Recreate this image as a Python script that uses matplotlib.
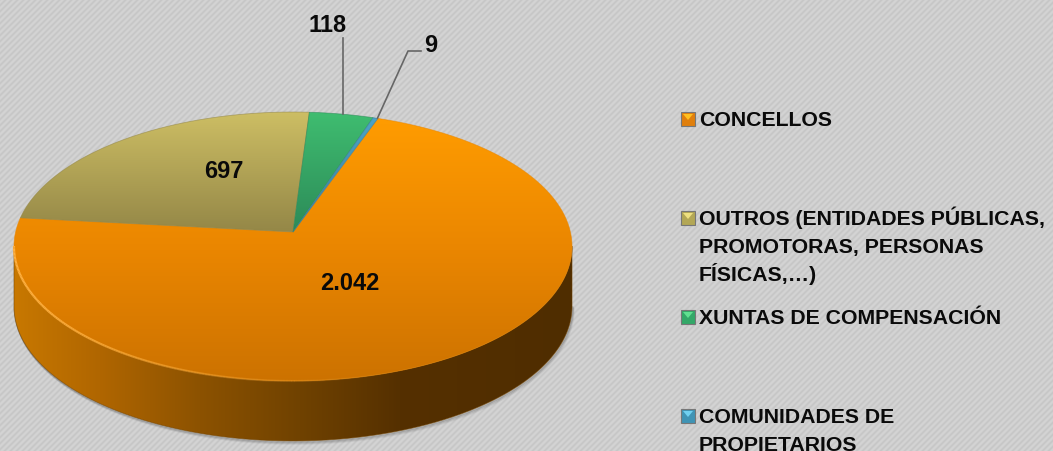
import numpy as np
import matplotlib
matplotlib.use("Agg")
import matplotlib.pyplot as plt
from matplotlib.collections import LineCollection
from matplotlib.colors import to_rgb
from matplotlib.patches import Polygon

W, H = 1053, 451

# Chart data
categories = ["CONCELLOS", "OUTROS (ENTIDADES PÚBLICAS,\nPROMOTORAS, PERSONAS\nFÍSICAS,…)",
              "XUNTAS DE COMPENSACIÓN", "COMUNIDADES DE\nPROPIETARIOS"]
values = [2042, 697, 118, 9]
value_labels = ["2.042", "697", "118", "9"]

# Vertical colour ramps of the top faces (y pixel, colour)
top_ramps = [
    [(118, "#ff9c00"), (250, "#ea8600"), (382, "#cc7200")],
    [(112, "#cdbe64"), (232, "#948747")],
    [(112, "#3fbd70"), (232, "#2c8a58")],
    [(112, "#4da6c8"), (232, "#3a7f9c")],
]
wall_ramp = [(14, "#c87800"), (100, "#b06600"), (200, "#8c5200"), (300, "#704200"),
             (400, "#553000"), (572, "#4f2d00")]
legend_faces = ["#e07f0c", "#b3a755", "#33a868", "#3f94b5"]
legend_tops = ["#ffc020", "#eee080", "#60e090", "#70d0f0"]

# Geometry of the tilted disc, in pixels
CX, CY = 293, 232
A, B, K = 132.9, 277.4, 0.1078
DEPTH = 60
START = 19.7  # clockwise from 12 o'clock


def project(clockwise_deg, r=1.0):
    t = np.radians(clockwise_deg)
    x, y = r * np.sin(t), r * np.cos(t)
    d = 1 + K * y
    return CX + B * x / d, CY - A * y / d


def gradient_fill(ax, pts, stops, axis):
    # ramp image clipped to the polygon
    pos = [s[0] for s in stops]
    cols = np.array([to_rgb(s[1]) for s in stops])
    coord = np.arange(H if axis == "y" else W) + 0.5
    ramp = np.stack([np.interp(coord, pos, cols[:, i]) for i in range(3)], axis=-1)
    img = ramp[:, None, :] if axis == "y" else ramp[None, :, :]
    im = ax.imshow(img, extent=(0, W, H, 0), aspect="auto", zorder=2, interpolation="nearest")
    im.set_clip_path(Polygon(pts, closed=True, transform=ax.transData))
    # soft edge over the jagged clip
    mid = cols[len(cols) // 2]
    ax.add_patch(Polygon(pts, closed=True, fill=False, edgecolor=mid, linewidth=0.6, alpha=0.6, zorder=2))


fig = plt.figure(figsize=(W / 100, H / 100), dpi=100)
ax = fig.add_axes([0, 0, 1, 1])
FONT = "Liberation Sans"
FS = 15.3
FS_VALUE = 17

# Striped background
yy, xx = np.mgrid[0:H, 0:W]
stripes = 0.805 + 0.028 * np.sin(2 * np.pi * (xx + yy) / 6.0)
ax.imshow(stripes, cmap="gray", vmin=0, vmax=1, extent=(0, W, H, 0), aspect="auto", zorder=0)

# Wedge angles from the values
angles = np.array(values, dtype=float) / sum(values) * 360.0
ends = START + np.cumsum(angles)
starts = ends - angles

# Outer wall, from the front half of the rim
rim_t = np.linspace(0, 360, 721)
rim_x, rim_y = project(rim_t)
i_r, i_l = int(np.argmax(rim_x)), int(np.argmin(rim_x))
front_t = np.linspace(rim_t[i_r], rim_t[i_l], 300)
fx, fy = project(front_t)
wall = np.vstack([np.column_stack([fx, fy]), np.column_stack([fx, fy + DEPTH])[::-1]])

# soft shadow round the solid
for off, al in [(3.0, 0.10), (2.0, 0.18), (1.0, 0.28)]:
    ax.plot(fx + off * 0.6, fy + DEPTH + off, color="#555555", alpha=al, linewidth=1.2, zorder=1)
gradient_fill(ax, wall, wall_ramp, "x")

# Top faces
for s, e, ramp in zip(starts, ends, top_ramps):
    tt = np.linspace(s, e, 200)
    px, py = project(tt)
    pts = np.vstack([[CX, CY], np.column_stack([px, py])])
    gradient_fill(ax, pts, ramp, "y")

# Rim highlight, fading towards the dark side
segs = np.stack([np.column_stack([fx[:-1], fy[:-1]]), np.column_stack([fx[1:], fy[1:]])], axis=1)
fade = np.clip((420 - fx[:-1]) / 400, 0, 1) ** 1.5
colors = np.zeros((len(segs), 4))
colors[:, :3] = to_rgb("#ffb040")
colors[:, 3] = fade
ax.add_collection(LineCollection(segs, colors=colors, linewidths=1.6, zorder=3))

# Leader lines
mid_118 = project(starts[2] + angles[2] / 2)
mid_9 = project(starts[3] + angles[3] / 2)
ax.plot([mid_118[0] + 1, mid_118[0] + 1], [38, mid_118[1]], color="#666666", linewidth=1.2, zorder=4)
ax.plot([mid_9[0] + 2, 408, 421], [mid_9[1], 51, 51], color="#666666", linewidth=1.2, zorder=4)

# Value labels
label_pos = [(350, 283), (224, 172), (328, 26), (431, 45)]
for txt, (lx, ly) in zip(value_labels, label_pos):
    ax.text(lx, ly, txt, ha="center", va="center", fontsize=FS_VALUE, fontweight="bold",
            family=FONT, color="#0a0a0a", zorder=5)

# Legend
legend_baselines = [126, 225, 324, 423]
LINE_STEP = 28
for cat, base, face, hi in zip(categories, legend_baselines, legend_faces, legend_tops):
    y0 = base - 14
    ax.add_patch(Polygon([(681, y0), (695, y0), (695, y0 + 14), (681, y0 + 14)], closed=True,
                         facecolor=face, edgecolor="#777777", linewidth=0.8, zorder=4))
    ax.add_patch(Polygon([(683, y0 + 2), (693, y0 + 2), (688, y0 + 8)], closed=True,
                         facecolor=hi, edgecolor="none", zorder=5))
    for j, line in enumerate(cat.split("\n")):
        ax.text(699, base + j * LINE_STEP, line, ha="left", va="baseline", fontsize=FS,
                fontweight="bold", family=FONT, color="#0a0a0a", zorder=5)

ax.set_xlim(0, W)
ax.set_ylim(H, 0)
ax.axis("off")
fig.savefig("out.png", dpi=100)
